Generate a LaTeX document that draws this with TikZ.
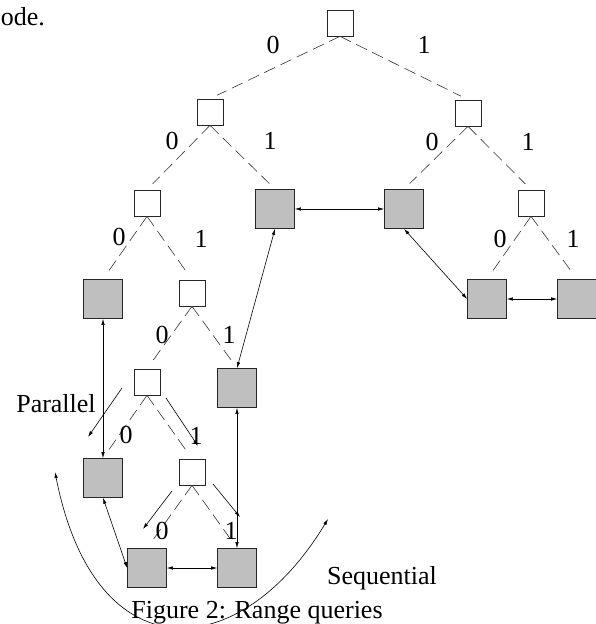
\documentclass[tikz,border=0pt]{standalone}
\usepackage{fontspec}
\setmainfont{Liberation Serif}
\usetikzlibrary{arrows.meta}

\tikzset{
  inner/.style={draw=black!85, fill=white, minimum size=26pt, inner sep=0pt, line width=0.7pt},
  leaf/.style={draw=black!85, fill=black!25, minimum size=39pt, inner sep=0pt, line width=0.7pt},
  branch/.style={draw=black!80, dash pattern=on 12pt off 6pt, line width=0.6pt, shorten >=8pt},
  link/.style={{Latex[length=6pt,width=3.5pt]}-{Latex[length=6pt,width=3.5pt]}, line width=0.6pt},
  pararrow/.style={-{Latex[length=6pt,width=3.5pt]}, line width=0.6pt},
  bit/.style={font=\fontsize{26}{30}\selectfont, inner sep=0pt},
  caption/.style={font=\fontsize{26}{30}\selectfont, inner sep=0pt},
}

\begin{document}
\begin{tikzpicture}[x=1pt,y=-1pt]
            \useasboundingbox (0,0) rectangle (595,624);

            % Draw the tree nodes
            \node[inner] (n) at (340,23) {};
            \node[inner] (n0) at (210,112) {};
            \node[inner] (n1) at (468,113) {};
            \node[inner] (n00) at (147,203) {};
            \node[leaf] (n01) at (275,209) {};
            \node[leaf] (n10) at (404,209) {};
            \node[inner] (n11) at (531,203) {};
            \node[leaf] (n000) at (103,299) {};
            \node[inner] (n001) at (192,293) {};
            \node[leaf] (n110) at (487,299) {};
            \node[leaf] (n111) at (577,299) {};
            \node[inner] (n0010) at (147,382) {};
            \node[leaf] (n0011) at (237,388) {};
            \node[leaf] (n00100) at (103,478) {};
            \node[inner] (n00101) at (192,472) {};
            \node[leaf] (n001010) at (147,568) {};
            \node[leaf] (n001011) at (237,568) {};

            % Draw the tree branches
            \draw[branch] (n.south) -- (n0.north);
            \draw[branch] (n.south) -- (n1.north);
            \draw[branch] (n0.south) -- (n00.north);
            \draw[branch] (n0.south) -- (n01.north);
            \draw[branch] (n1.south) -- (n10.north);
            \draw[branch] (n1.south) -- (n11.north);
            \draw[branch] (n00.south) -- (n000.north);
            \draw[branch] (n00.south) -- (n001.north);
            \draw[branch] (n11.south) -- (n110.north);
            \draw[branch] (n11.south) -- (n111.north);
            \draw[branch] (n001.south) -- (n0010.north);
            \draw[branch] (n001.south) -- (n0011.north);
            \draw[branch] (n0010.south) -- (n00100.north);
            \draw[branch] (n0010.south) -- (n00101.north);
            \draw[branch] (n00101.south) -- (n001010.north);
            \draw[branch] (n00101.south) -- (n001011.north);

            % Draw the bit labels
            \node[bit] (b0) at (273,45) {0};
            \node[bit] (b1) at (424,45) {1};
            \node[bit] (b00) at (172,141) {0};
            \node[bit] (b01) at (270,141) {1};
            \node[bit] (b10) at (432,142) {0};
            \node[bit] (b11) at (528,142) {1};
            \node[bit] (b000) at (119,237) {0};
            \node[bit] (b001) at (201,239) {1};
            \node[bit] (b110) at (500,239) {0};
            \node[bit] (b111) at (573,239) {1};
            \node[bit] (b0010) at (162,335) {0};
            \node[bit] (b0011) at (229,335) {1};
            \node[bit] (b00100) at (126,435) {0};
            \node[bit] (b00101) at (196,436) {1};
            \node[bit] (b001010) at (162,531) {0};
            \node[bit] (b001011) at (231,531) {1};

            % Draw the links between leaves
            \draw[link] (n01.east) -- (n10.west);
            \draw[link] (n10.south) -- (n110.west);
            \draw[link] (n110.east) -- (n111.west);
            \draw[link] (n01.south) -- (n0011.north);
            \draw[link] (n0011.south) -- (n001011.north);
            \draw[link] (n000.south) -- (n00100.north);
            \draw[link] (n00100.south) -- (n001010.west);
            \draw[link] (n001010.east) -- (n001011.west);

            % Draw the parallel arrows
            \coordinate (pa) at (122,388);
            \coordinate (pa') at (88,437);
            \coordinate (pb) at (166,398);
            \coordinate (pb') at (198,446);
            \coordinate (pc) at (172,491);
            \coordinate (pc') at (143,529);
            \coordinate (pd) at (213,484);
            \coordinate (pd') at (240,517);
            \draw[pararrow] (pa) -- (pa');
            \draw[pararrow] (pb) -- (pb');
            \draw[pararrow] (pc) -- (pc');
            \draw[pararrow] (pd) -- (pd');

            % Draw the sequential sweep
            \coordinate (sweepa) at (55,472);
            \coordinate (sweepb) at (328,519);
            \draw[link] (sweepa) .. controls (95,675) and (240,665) .. (sweepb);

            % Draw the texts
            \node[caption, anchor=base east] (top) at (45,25) {ode.};
            \node[caption, anchor=base] (parallel) at (56,412) {Parallel};
            \node[caption, anchor=base] (sequential) at (382,584) {Sequential};
            \node[caption, anchor=base] (figure) at (257,618) {Figure 2: Range queries};
        \end{tikzpicture}
\end{document}
